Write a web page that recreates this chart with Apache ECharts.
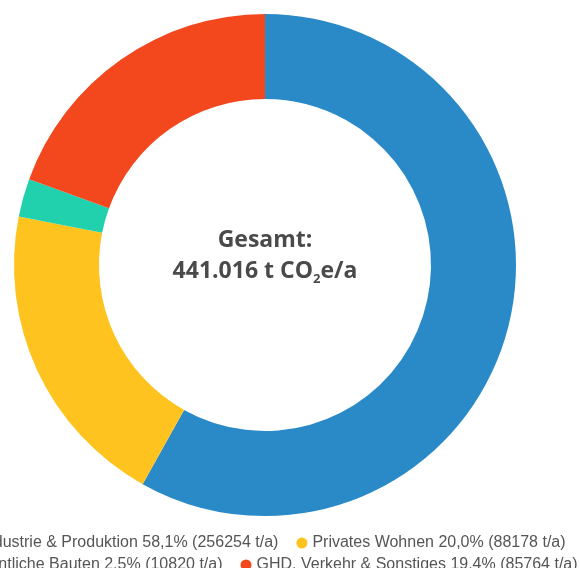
<!DOCTYPE html>
<html>
<head>
<meta charset="utf-8">
<script src="https://cdn.jsdelivr.net/npm/echarts@6/dist/echarts.min.js"></script>
<style>
  html, body { margin: 0; padding: 0; overflow: hidden; background: #fff; }
  #chart { position: absolute; left: -100px; top: 0; width: 730px; height: 568px; }
</style>
</head>
<body>
<div id="chart"></div>
<script>
// Sektoren und Emissionen (t CO2e/a)
var sectors = ['Industrie & Produktion', 'Privates Wohnen', 'Öffentliche Bauten', 'GHD, Verkehr & Sonstiges']
var emissions = [256254, 88178, 10820, 85764]
var colors = ['#2a8ac8', '#fec31e', '#21d1ae', '#f3481e']
var totalLabel = '441.016 t CO'

var total = emissions.reduce(function (a, b) { return a + b }, 0)

function legendText(name) {
  var i = sectors.indexOf(name)
  var pct = (emissions[i] / total * 100).toFixed(1).replace('.', ',')
  return name + ' ' + pct + '% (' + emissions[i] + ' t/a)'
}

var chart = echarts.init(document.getElementById('chart'))

var legendStyle = {
  left: 'center',
  width: 720,
  icon: 'circle',
  itemWidth: 11,
  itemHeight: 11,
  itemGap: 18,
  selectedMode: false,
  formatter: legendText,
  textStyle: { fontFamily: 'Liberation Sans', fontSize: 16, color: '#555' }
}

var big = { fontFamily: 'Open Sans', fontWeight: 'bold', fontSize: 23, color: '#4a4a4a', lineHeight: 31 }

chart.setOption({
  title: {
    left: 'center',
    top: 220,
    text: '{a|Gesamt:}\n{b|' + totalLabel + '}{s|2}{b|e/a}',
    textStyle: {
      rich: {
        a: Object.assign({ align: 'center' }, big),
        b: big,
        s: { fontFamily: 'Open Sans', fontWeight: 'bold', fontSize: 13, color: '#4a4a4a', lineHeight: 31, padding: [16, 0, 0, 0] }
      }
    }
  },
  legend: [
    Object.assign({ top: 530, data: sectors.slice(0, 2) }, legendStyle),
    Object.assign({ top: 552, data: sectors.slice(2, 4) }, legendStyle)
  ],
  series: [
    {
      type: 'pie',
      radius: [166, 251],
      center: ['50%', 265],
      startAngle: 90,
      clockwise: true,
      silent: true,
      label: { show: false },
      labelLine: { show: false },
      animation: false,
      data: sectors.map(function (s, i) {
        return { name: s, value: emissions[i], itemStyle: { color: colors[i] } }
      })
    }
  ]
})
</script>
</body>
</html>
